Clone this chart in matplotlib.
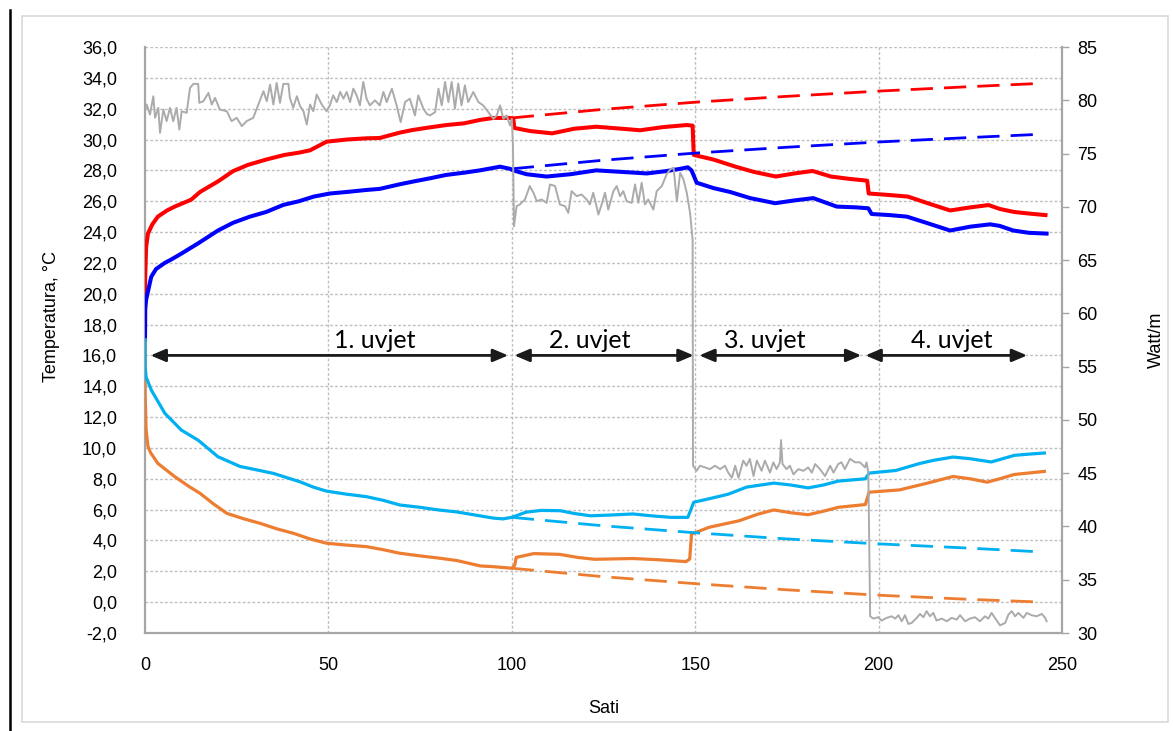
import matplotlib
matplotlib.use("Agg")
import matplotlib.pyplot as plt
from matplotlib.patches import Rectangle
from matplotlib.lines import Line2D

plt.rcParams['font.family'] = ['Liberation Sans', 'DejaVu Sans']

# ---------------- data ----------------
red_h = [0, 0.05, 0.3, 0.8, 2, 3.5, 6, 8.1, 12.6, 15, 20, 24, 28, 33, 38, 42, 45, 49.5, 55, 60.4,
         64, 69.5, 73, 78, 82.2, 87, 91.3, 95, 99.5, 100.4, 100.7, 105, 111, 117, 123, 130, 135,
         141, 147.7, 149.3, 149.6, 155, 161, 166, 172, 177, 182, 187, 192, 196.9, 197.3, 203,
         208, 213, 219.5, 225, 230, 233, 237, 241, 245.5]
red_t = [17.0, 21.0, 23.0, 23.9, 24.5, 25.0, 25.4, 25.65, 26.1, 26.6, 27.3, 27.95, 28.35, 28.7,
         29.0, 29.15, 29.3, 29.86, 30.0, 30.08, 30.1, 30.45, 30.62, 30.8, 30.94, 31.05, 31.27,
         31.4, 31.4, 31.35, 30.75, 30.55, 30.4, 30.7, 30.83, 30.7, 30.6, 30.8, 30.94, 30.9, 29.0,
         28.7, 28.24, 27.9, 27.6, 27.8, 27.96, 27.6, 27.45, 27.33, 26.5, 26.4, 26.3, 25.9, 25.4,
         25.6, 25.75, 25.5, 25.3, 25.2, 25.1]

blue_h = [0, 0.05, 0.3, 1.7, 3, 5.4, 7, 9.9, 14.5, 19.9, 24, 28.6, 33, 37.7, 42, 46, 50.4, 55,
          60.4, 64, 69.5, 73, 78, 82, 87, 91.3, 96.8, 99.5, 100.4, 104, 109.5, 116, 123, 130,
          136.8, 142, 145.9, 148, 149, 150.4, 155, 159.5, 165, 171.8, 177, 182.2, 188.6, 194,
          197.2, 198.1, 203, 207.7, 213, 219.5, 225, 230.4, 233, 236.7, 241, 245.8]
blue_t = [17.0, 19.0, 19.6, 21.1, 21.6, 22.0, 22.2, 22.6, 23.27, 24.1, 24.6, 25.0, 25.3, 25.76,
          26.0, 26.3, 26.5, 26.6, 26.73, 26.8, 27.1, 27.27, 27.5, 27.7, 27.85, 28.0, 28.24, 28.1,
          28.0, 27.75, 27.6, 27.75, 28.0, 27.9, 27.8, 27.95, 28.1, 28.2, 28.0, 27.2, 26.85, 26.6,
          26.2, 25.87, 26.05, 26.2, 25.65, 25.6, 25.54, 25.17, 25.1, 25.0, 24.6, 24.1, 24.35,
          24.5, 24.4, 24.1, 23.95, 23.9]

cyan_h = [0, 0.05, 0.3, 1.7, 5.4, 9.9, 14.5, 19.9, 25.9, 30, 35, 42.3, 46, 49.5, 55, 60.4, 65,
          69.5, 75, 80, 85, 90, 95, 97.6, 100, 103.8, 108, 113.2, 117, 121.5, 127, 133, 138,
          143.3, 148, 149.6, 153.7, 159, 164, 171.4, 176, 180.8, 185, 189, 196.4, 197.4, 204.7,
          211, 215, 220.3, 225, 230.7, 237, 241, 245.2]
cyan_t = [17.0, 15.3, 14.6, 13.76, 12.25, 11.16, 10.5, 9.43, 8.8, 8.6, 8.35, 7.8, 7.45, 7.2,
          7.0, 6.84, 6.6, 6.3, 6.15, 5.98, 5.85, 5.65, 5.45, 5.4, 5.5, 5.83, 5.95, 5.93, 5.75,
          5.6, 5.65, 5.72, 5.6, 5.5, 5.5, 6.48, 6.7, 7.0, 7.46, 7.72, 7.6, 7.41, 7.6, 7.85, 8.0,
          8.37, 8.54, 8.98, 9.2, 9.41, 9.3, 9.09, 9.52, 9.6, 9.67]

orange_h = [0, 0.05, 0.3, 0.8, 1.5, 3.5, 8.1, 12, 15, 18.5, 22.3, 27, 31.4, 36, 40.4, 45, 49.5,
            55, 60.4, 65, 69.5, 75, 80, 85, 91.4, 95, 100, 100.8, 101.2, 106, 113, 118, 122.6,
            133, 140, 147.5, 148.5, 149, 153.7, 162, 167, 171.4, 176, 180.8, 185, 189, 196.4,
            197.4, 205.7, 213, 220.3, 225, 229.6, 233, 237, 245.2]
orange_t = [17.0, 13.5, 11.2, 10.1, 9.7, 9.0, 8.14, 7.5, 7.06, 6.4, 5.76, 5.4, 5.11, 4.75, 4.47,
            4.1, 3.82, 3.7, 3.6, 3.4, 3.17, 3.0, 2.86, 2.7, 2.35, 2.3, 2.2, 2.4, 2.9, 3.15, 3.1,
            2.9, 2.78, 2.83, 2.75, 2.63, 2.8, 4.41, 4.85, 5.28, 5.7, 5.98, 5.8, 5.67, 5.9, 6.15,
            6.33, 7.13, 7.28, 7.7, 8.15, 8.0, 7.78, 8.0, 8.28, 8.48]

trend_h = [100, 125, 150, 175, 200, 225, 245]
red_trend = [31.4, 31.96, 32.42, 32.8, 33.14, 33.43, 33.65]
blue_trend = [28.1, 28.66, 29.12, 29.5, 29.84, 30.13, 30.35]
cyan_trend = [5.5, 4.95, 4.5, 4.1, 3.78, 3.5, 3.25]
orange_trend = [2.2, 1.65, 1.2, 0.8, 0.45, 0.18, 0.0]

gray_h = [0.0, 0.45, 1.36, 2.27, 2.73, 3.63, 4.09, 5.0, 5.9, 6.8, 7.7, 8.6, 9.36, 10.0, 11.36,
          12.27, 13.2, 14.5, 14.8, 15.9, 17.3, 18.2, 19.1, 20.4, 22.3, 23.6, 25.0, 26.4, 27.7,
          29.5, 30.9, 32.3, 33.2, 34.1, 35.0, 35.9, 36.8, 37.7, 39.1, 39.5, 40.4, 41.4, 42.3,
          43.2, 44.1, 45.0, 45.9, 46.8, 48.2, 49.5,
          50.4, 51.3, 52.3, 53.2, 54.1, 55.0, 55.9, 56.8, 57.7, 58.6, 59.5, 60.4, 61.3, 62.7,
          64.0, 65.0, 65.9, 67.3, 68.6, 69.7, 70.9, 72.2, 73.6, 74.5, 75.9, 76.8, 77.7, 79.1,
          80.0, 80.9, 81.8, 82.7, 83.6, 84.5, 85.4, 86.3, 87.2, 88.1, 89.5, 90.9, 92.2, 93.6,
          95.0, 95.9, 96.8, 97.7, 98.6, 99.5, 100.0, 100.3, 100.6,
          101.3, 102.2, 103.6, 104.9, 105.9, 106.8, 108.1, 109.5, 110.4, 111.8, 113.1, 114.5,
          115.4, 116.3, 117.7, 119.0, 120.4, 121.3, 122.2, 123.1, 123.6, 124.5, 125.4, 126.3,
          127.7, 128.6, 129.5, 130.4, 131.3, 132.7, 133.6, 134.5, 135.4, 136.3, 137.2, 138.6,
          139.5, 140.9, 142.2, 143.2, 144.1, 145.0, 145.9, 146.8, 147.7, 148.6, 149.3, 149.4,
          150.4, 151.3, 152.7, 154.0, 155.4, 156.8, 158.1, 159.0, 160.0, 160.9, 161.8, 163.1,
          164.0, 164.9, 165.9, 166.8, 168.1, 169.0, 170.4, 171.3, 172.2, 173.1, 173.4, 173.8,
          174.9, 175.8, 176.8, 178.1, 179.5, 180.8, 181.8, 182.7, 184.0, 185.4, 186.8, 187.7,
          189.0, 189.9, 190.8, 192.2, 193.6, 194.9, 196.3, 196.7, 197.2, 197.7,
          198.6, 199.9, 200.8, 202.2, 203.6, 204.5, 205.4, 206.3, 207.2, 208.1, 209.0, 210.4,
          211.3, 212.2, 213.1, 214.0, 214.9, 215.8, 217.2, 218.6, 219.9, 221.3, 222.2, 223.6,
          224.9, 226.3, 227.6, 229.0, 229.9, 230.8, 231.7, 233.1, 234.5, 235.4, 236.3, 237.2,
          238.1, 239.5, 240.4, 241.7, 243.1, 244.5, 245.4, 245.8]
gray_w = [78.97, 79.6, 78.66, 80.38, 78.35, 79.29, 76.94, 79.13, 78.04, 79.29, 78.04, 79.29,
          77.25, 78.97, 78.82, 81.16, 81.54, 81.54, 79.76, 79.91, 80.69, 79.6, 80.22, 79.13,
          78.97, 78.04, 78.35, 77.57, 78.04, 78.35, 79.6, 80.85, 79.91, 81.47, 79.6, 81.63,
          79.76, 81.54, 81.54, 80.22, 79.29, 80.38, 79.44, 78.97, 77.72, 79.6, 78.97, 80.54,
          79.6, 78.97,
          79.52, 80.46, 79.83, 80.78, 80.15, 80.78, 79.83, 81.09, 80.46, 79.52, 81.72, 80.15,
          79.52, 79.99, 79.52, 80.78, 79.83, 81.09, 79.52, 77.95, 79.83, 80.15, 78.58, 80.46,
          79.21, 78.73, 78.58, 78.89, 81.09, 79.52, 81.72, 79.83, 81.72, 79.21, 81.57, 79.52,
          81.41, 79.83, 80.78, 79.83, 79.52, 78.89, 78.26, 78.58, 79.52, 78.26, 78.58, 77.63,
          78.26, 76.0, 68.17,
          70.06, 70.22, 70.69, 71.95, 71.32, 70.53, 70.69, 70.37, 72.1, 71.95, 70.22, 70.06,
          69.43, 71.47, 71.0, 71.16, 70.69, 70.22, 71.32, 70.06, 69.27, 70.22, 71.32, 69.74,
          71.47, 71.95, 71.0, 71.47, 70.53, 70.37, 72.1, 70.37, 72.26, 70.22, 70.69, 69.74,
          71.47, 71.95, 73.05, 73.52, 73.68, 70.53, 73.2, 72.57, 71.32, 69.43, 66.9, 45.7,
          45.22, 45.7, 45.54, 45.38, 45.7, 45.38, 45.7, 45.05, 44.57, 45.7, 44.57, 46.18,
          45.7, 46.34, 44.73, 46.18, 45.22, 46.18, 45.05, 46.02, 45.38, 46.02, 48.11, 45.86,
          45.38, 45.7, 44.89, 45.38, 45.22, 45.54, 45.05, 45.86, 45.38, 44.73, 45.7, 45.05,
          45.86, 46.02, 45.38, 46.34, 46.02, 46.02, 45.54, 46.02, 45.05, 31.57,
          31.35, 31.48, 31.17, 31.42, 31.57, 31.35, 31.67, 31.10, 31.67, 30.85, 30.94, 31.42,
          31.79, 31.48, 32.05, 31.57, 31.89, 31.17, 31.35, 31.10, 31.42, 31.26, 31.67, 31.10,
          31.35, 31.48, 31.10, 31.57, 31.35, 31.89, 31.42, 30.72, 30.94, 31.73, 32.05, 31.57,
          31.89, 31.42, 31.89, 31.67, 31.57, 31.79, 31.42, 31.10]

phase_labels = ["1. uvjet", "2. uvjet", "3. uvjet", "4. uvjet"]
phase_start = [1.5, 100.7, 151.1, 196.4]
phase_end = [99.0, 149.6, 195.3, 240.5]
phase_label_x = [62.7, 121.3, 169.0, 220.0]

left_ticks = list(range(-2, 37, 2))
left_ticklabels = [f"{v:.1f}".replace('.', ',') for v in left_ticks]
right_ticks = list(range(30, 86, 5))
x_ticks = [0, 50, 100, 150, 200, 250]

# ---------------- figure ----------------
W, H = 1173, 731
fig = plt.figure(figsize=(W / 100, H / 100), dpi=100)
fig.patch.set_facecolor('white')

# outer decoration
fig.add_artist(Rectangle((22 / W, 1 - 722 / H), (1168 - 22) / W, (722 - 16) / H,
                         transform=fig.transFigure, fill=False, edgecolor='#D9D9D9', lw=1.2))
fig.add_artist(Line2D([9.5 / W, 9.5 / W], [0, 1 - 10 / H], transform=fig.transFigure,
                      color='black', lw=1.8))

ax = fig.add_axes([145 / W, 1 - 633 / H, (1062 - 145) / W, 586 / H])
ax.set_xlim(0, 250)
ax.set_ylim(-2, 36)

grid_c = '#BFBFBF'
for v in left_ticks[1:]:
    ax.axhline(v, color=grid_c, lw=1.0, ls=(0, (2, 1.5)), zorder=0)
for v in x_ticks[1:-1]:
    ax.axvline(v, color=grid_c, lw=1.0, ls=(0, (2, 1.5)), zorder=0)

ax.plot(red_h, red_t, color='#FF0000', lw=2.9, solid_joinstyle='round', zorder=3)
ax.plot(blue_h, blue_t, color='#0000FF', lw=2.9, solid_joinstyle='round', zorder=3)
ax.plot(orange_h, orange_t, color='#ED7D31', lw=2.3, solid_joinstyle='round', zorder=3)
ax.plot(cyan_h, cyan_t, color='#00B0F0', lw=2.3, solid_joinstyle='round', zorder=3)

dash = (0, (8, 4))
ax.plot(trend_h, red_trend, color='#FF0000', lw=2.0, ls=dash, zorder=3)
ax.plot(trend_h, blue_trend, color='#0000FF', lw=2.0, ls=dash, zorder=3)
ax.plot(trend_h, cyan_trend, color='#00B0F0', lw=2.0, ls=dash, zorder=3)
ax.plot(trend_h, orange_trend, color='#ED7D31', lw=2.0, ls=dash, zorder=3)

for lab, x0, x1, xl in zip(phase_labels, phase_start, phase_end, phase_label_x):
    ax.annotate('', xy=(x1, 16.0), xytext=(x0, 16.0),
                arrowprops=dict(arrowstyle='<|-|>,head_length=0.9,head_width=0.38',
                                color='#1A1A1A', lw=2.0, shrinkA=0, shrinkB=0), zorder=5)
    ax.text(xl, 16.2, lab, ha='center', va='bottom', fontsize=18,
            family=['Lato', 'DejaVu Sans'], color='black', zorder=5)

ax.set_xticks(x_ticks)
ax.set_yticks(left_ticks)
ax.set_yticklabels(left_ticklabels)
ax.tick_params(axis='y', length=0, pad=20, labelsize=13)
ax.tick_params(axis='x', length=0, pad=17, labelsize=13)
for s in ['top', 'right']:
    ax.spines[s].set_visible(False)
for s in ['left', 'bottom']:
    ax.spines[s].set_color('#A6A6A6')
    ax.spines[s].set_linewidth(1.6)

ax.set_xlabel('Sati', fontsize=13, labelpad=19)
ax.set_ylabel('Temperatura, °C', fontsize=13)
ax.yaxis.set_label_coords(-0.093, 0.54)

ax2 = ax.twinx()
ax2.set_ylim(30, 85)
ax2.set_yticks(right_ticks)
ax2.plot(gray_h, gray_w, color='#ABABAB', lw=1.4, zorder=4)
ax2.tick_params(axis='y', length=5, width=1, color='#A6A6A6', pad=6, labelsize=13)
for s in ['top', 'left', 'bottom']:
    ax2.spines[s].set_visible(False)
ax2.spines['right'].set_color('#A6A6A6')
ax2.spines['right'].set_linewidth(1.6)
ax2.set_ylabel('Watt/m', fontsize=13)
ax2.yaxis.set_label_coords(1.094, 0.50)

fig.savefig('out.png', dpi=100, facecolor='white')
